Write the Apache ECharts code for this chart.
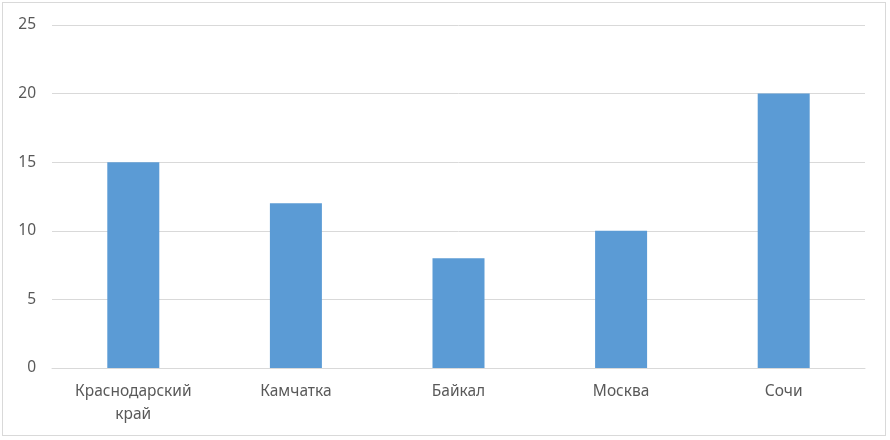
<!DOCTYPE html>
<html>
<head>
<meta charset="utf-8">
<script src="https://cdn.jsdelivr.net/npm/echarts@6/dist/echarts.min.js"></script>
<style>
  html, body { margin: 0; padding: 0; background: #fff; }
  #chart {
    position: absolute; left: 2px; top: 2px;
    width: 884px; height: 434px;
    border: 1px solid #d9d9d9; box-sizing: border-box;
  }
</style>
</head>
<body>
<div id="chart"></div>
<script>
    // данные диаграммы
    var categories = ["Краснодарский\nкрай", "Камчатка", "Байкал", "Москва", "Сочи"];
    var values = [15, 12, 8, 10, 20];
    var yTicks = [0, 5, 10, 15, 20, 25];

    var myChart = echarts.init(document.getElementById('chart'));
    var option = {
        animation: false,
        textStyle: { fontFamily: "Noto Sans" },
        grid: {
            left: 49,
            right: 20,
            top: 22,
            bottom: 67
        },
        xAxis: {
            type: "category",
            data: categories,
            axisLine: { lineStyle: { color: "#d9d9d9", width: 1 } },
            axisTick: { show: false },
            axisLabel: {
                color: "#595959",
                fontSize: 15.5,
                margin: 12,
                lineHeight: 23,
                interval: 0
            }
        },
        yAxis: {
            type: "value",
            min: yTicks[0],
            max: yTicks[yTicks.length - 1],
            interval: 5,
            axisLine: { show: false },
            axisTick: { show: false },
            axisLabel: {
                color: "#595959",
                fontSize: 15.5,
                margin: 16
            },
            splitLine: { lineStyle: { color: "#d9d9d9", width: 1 } }
        },
        series: [
            {
                type: "bar",
                data: values,
                barWidth: 52,
                itemStyle: { color: "#5b9bd5" }
            }
        ]
    };
    myChart.setOption(option);
</script>
</body>
</html>
